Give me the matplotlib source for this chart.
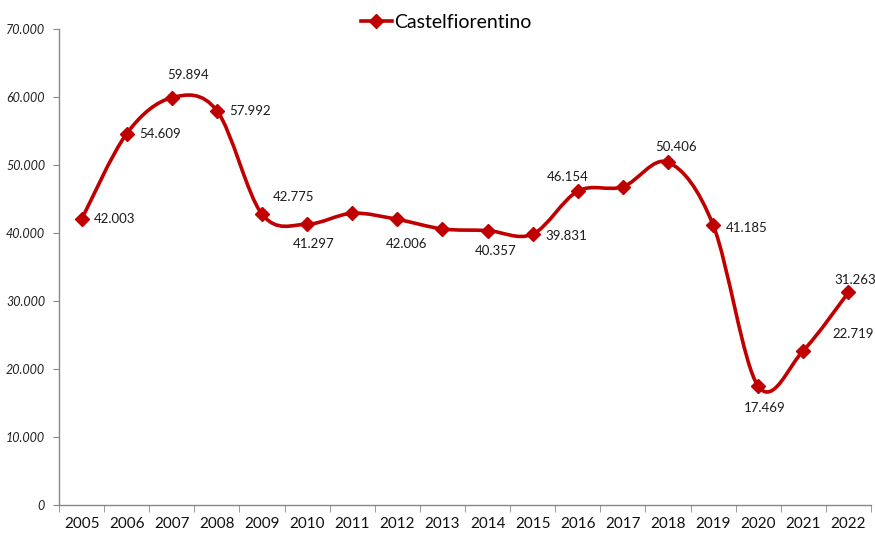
import matplotlib
matplotlib.use("Agg")
import matplotlib.pyplot as plt
from matplotlib.path import Path
from matplotlib.patches import PathPatch
from matplotlib.lines import Line2D
import numpy as np

years = ["2005", "2006", "2007", "2008", "2009", "2010", "2011", "2012", "2013",
         "2014", "2015", "2016", "2017", "2018", "2019", "2020", "2021", "2022"]
values = [42003, 54609, 59894, 57992, 42775, 41297, 42900, 42006, 40600,
          40357, 39831, 46154, 46800, 50406, 41185, 17469, 22719, 31263]
show_label = [True, True, True, True, True, True, False, True, False,
              True, True, True, False, True, True, True, True, True]
series_name = "Castelfiorentino"
y_ticks = [0, 10000, 20000, 30000, 40000, 50000, 60000, 70000]

# label offsets in points (dx, dy) — layout only
label_offsets = [(9, 0, 'left'), (9, 0, 'left'), (12, 16, 'center'), (9, 0, 'left'),
                 (8, 12, 'left'), (5, -14, 'center'), None, (7, -18, 'center'), None,
                 (6, -15, 'center'), (9, -1, 'left'), (-7, 10, 'center'), None,
                 (6, 11, 'center'), (9, -2, 'left'), (5, -16, 'center'), (21, 12, 'left'),
                 (5, 9, 'center')]

COLOR = "#C00000"
FONT = "Lato"

fig = plt.figure(figsize=(8.75, 5.34), dpi=100)
ax = fig.add_axes([59/875, 29/534, (871-59)/875, (505-29)/534])

x = np.arange(len(years), dtype=float)
y = np.array(values, dtype=float)

# Excel-like smoothed line (Catmull-Rom -> cubic Bezier)
verts = [(x[0], y[0])]
codes = [Path.MOVETO]
n = len(x)
for i in range(n - 1):
    p0 = np.array([x[max(i-1, 0)], y[max(i-1, 0)]])
    p1 = np.array([x[i], y[i]])
    p2 = np.array([x[i+1], y[i+1]])
    p3 = np.array([x[min(i+2, n-1)], y[min(i+2, n-1)]])
    c1 = p1 + (p2 - p0) / 6.0
    c2 = p2 - (p3 - p1) / 6.0
    verts += [tuple(c1), tuple(c2), tuple(p2)]
    codes += [Path.CURVE4] * 3
path = Path(verts, codes)
ax.add_patch(PathPatch(path, facecolor="none", edgecolor=COLOR, lw=2.6,
                       capstyle="round", joinstyle="round", zorder=3))
ax.plot(x, y, linestyle="none", marker="D", markersize=7, color=COLOR, zorder=4)

for xi, yi, show, off in zip(x, y, show_label, label_offsets):
    if not show or off is None:
        continue
    txt = f"{int(yi):,}".replace(",", ".")
    ax.annotate(txt, (xi, yi), xytext=(off[0], off[1]), textcoords="offset points",
                ha=off[2], va="center", fontsize=9.5, family=FONT, color="#1a1a1a",
                annotation_clip=False)

ax.set_xlim(-0.5, len(years) - 0.5)
ax.set_ylim(0, 70000)
ax.set_yticks(y_ticks)
ax.set_yticklabels([f"{v:,}".replace(",", ".") for v in y_ticks],
                   fontsize=9, family=FONT, style="italic", color="#222222")
ax.set_xticks(x)
ax.set_xticklabels(years, fontsize=11, family=FONT, color="#111111")
ax.set_xticks(np.arange(-0.5, len(years), 1.0), minor=True)
ax.tick_params(axis="x", which="major", length=0, pad=9)
ax.tick_params(axis="x", which="minor", length=5, color="#888888", direction="out")
ax.tick_params(axis="y", length=4, color="#888888", direction="out", pad=6)

for s in ["top", "right"]:
    ax.spines[s].set_visible(False)
for s in ["left", "bottom"]:
    ax.spines[s].set_color("#888888")
    ax.spines[s].set_linewidth(1.0)

handle = Line2D([], [], color=COLOR, lw=2.6, marker="D", markersize=7)
fig.legend([handle], [series_name], loc="center", bbox_to_anchor=(446/875, 1 - 22/534),
           frameon=False, handlelength=1.6, handletextpad=0.1,
           prop={"family": FONT, "size": 14})

fig.savefig("out.png", dpi=100)
